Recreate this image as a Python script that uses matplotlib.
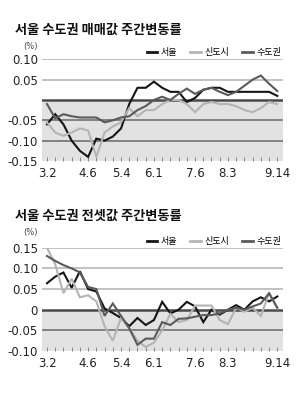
import matplotlib
matplotlib.use('Agg')
import matplotlib.pyplot as plt
import numpy as np

plt.rcParams['font.family'] = ['Noto Sans CJK KR', 'DejaVu Sans']

# weekly data, 3.2 ~ 9.14
weeks = np.arange(29)
tick_pos = [0, 5, 9, 13, 18, 22, 28]
tick_labels = ['3.2', '4.6', '5.4', '6.1', '7.6', '8.3', '9.14']
series_names = ['서울', '신도시', '수도권']

# 매매값
sale_seoul = [-0.06, -0.035, -0.06, -0.10, -0.125, -0.14, -0.095, -0.10, -0.09, -0.07,
              -0.01, 0.03, 0.03, 0.045, 0.03, 0.02, 0.02, -0.005, 0.005, 0.025,
              0.03, 0.03, 0.02, 0.02, 0.02, 0.02, 0.02, 0.02, 0.01]
sale_new = [-0.055, -0.08, -0.088, -0.08, -0.07, -0.075, -0.14, -0.08, -0.065, -0.055,
            -0.02, -0.04, -0.025, -0.025, -0.01, 0.0, 0.0, -0.01, -0.03, -0.01,
            -0.005, -0.01, -0.01, -0.015, -0.025, -0.03, -0.02, -0.005, -0.01]
sale_metro = [-0.01, -0.045, -0.035, -0.04, -0.043, -0.043, -0.043, -0.055, -0.05, -0.043,
              -0.04, -0.025, -0.015, 0.0, 0.008, 0.0, 0.015, 0.028, 0.015, 0.025,
              0.03, 0.02, 0.012, 0.02, 0.035, 0.05, 0.06, 0.04, 0.022]

# 전셋값
rent_seoul = [0.064, 0.08, 0.09, 0.053, 0.093, 0.05, 0.044, 0.003, -0.008, -0.02,
              -0.04, -0.02, -0.037, -0.025, 0.019, -0.009, 0.0, 0.019, 0.008, -0.03,
              0.0, -0.012, 0.0, 0.011, 0.0, 0.02, 0.03, 0.02, 0.032]
rent_new = [0.15, 0.11, 0.04, 0.075, 0.03, 0.035, 0.02, -0.04, -0.075, -0.02,
            -0.045, -0.075, -0.09, -0.08, -0.05, -0.01, -0.03, -0.025, 0.01, 0.01,
            0.01, -0.025, -0.035, 0.005, -0.005, 0.005, -0.015, 0.04, 0.003]
rent_metro = [0.13, 0.118, 0.108, 0.10, 0.09, 0.055, 0.05, -0.015, 0.015, -0.015,
              -0.045, -0.085, -0.07, -0.07, -0.03, -0.037, -0.022, -0.021, -0.017, -0.013,
              -0.013, -0.009, 0.0, 0.005, 0.0, 0.008, 0.015, 0.04, 0.005]

colors = ['#151515', '#b4b4b4', '#5a5a5a']
num_font = ['Liberation Sans Narrow', 'DejaVu Sans']


def draw_panel(ax, data, ylim, grid_light, grid_mid, tick_vals, tick_txt):
    ax.set_xlim(-0.6, 28.7)
    ax.set_ylim(*ylim)
    # shaded negative area
    ax.axhspan(ylim[0], 0, color='#e2e2e2', zorder=0, lw=0)
    for y in grid_light:
        ax.axhline(y, color='#b8b8b8', lw=1.2, zorder=1)
    for y in grid_mid:
        ax.axhline(y, color='#7a7a7a', lw=1.3, zorder=1)
    ax.axhline(0, color='#4a4a4a', lw=1.8, zorder=1)
    for vals, c in zip(data, colors):
        ax.plot(weeks, vals, color=c, lw=1.5, zorder=3, solid_joinstyle='miter')
    for s in ax.spines.values():
        s.set_visible(False)
    ax.set_xticks(tick_pos)
    ax.set_xticklabels(tick_labels, family=num_font, fontsize=8.5, color='#222')
    ax.set_xticks(weeks, minor=True)
    ax.tick_params(axis='x', which='both', direction='in', length=3, width=0.6,
                   color='#777', pad=4)
    ax.set_yticks(tick_vals)
    ax.set_yticklabels(tick_txt, family=num_font, fontsize=8.5, color='#222')
    ax.tick_params(axis='y', length=0, pad=3)
    handles = [plt.Line2D([], [], color=c, lw=2) for c in colors]
    ax.legend(handles, series_names, loc='lower right', bbox_to_anchor=(1.0, 1.0),
              ncol=3, frameon=False, fontsize=6.5, handlelength=1.2, handletextpad=0.4,
              columnspacing=1.4, borderaxespad=0.1, borderpad=0.1)


fig = plt.figure(figsize=(3.07, 3.98), dpi=100)
fig.patch.set_facecolor('white')

ax1 = fig.add_axes([0.137, 0.5955, 0.785, 0.2555])
draw_panel(ax1, [sale_seoul, sale_new, sale_metro], (-0.15, 0.10),
           [0.10, 0.05], [-0.05, -0.10],
           [0.10, 0.05, -0.05, -0.10, -0.15], ['0.10', '0.05', '-0.05', '-0.10', '-0.15'])

ax2 = fig.add_axes([0.137, 0.118, 0.785, 0.2596])
draw_panel(ax2, [rent_seoul, rent_new, rent_metro], (-0.10, 0.15),
           [0.15, 0.10, 0.05], [-0.05],
           [0.15, 0.10, 0.05, 0, -0.05, -0.10], ['0.15', '0.10', '0.05', '0', '-0.05', '-0.10'])

# unit labels
fig.text(0.098, 0.882, '(%)', fontsize=6, color='#444', family=num_font,
         ha='center', va='center')
fig.text(0.098, 0.415, '(%)', fontsize=6, color='#444', family=num_font,
         ha='center', va='center')

fig.text(0.05, 0.925, '서울 수도권 매매값 주간변동률', fontsize=9.5, fontweight='bold',
         color='#111', ha='left', va='center')
fig.text(0.05, 0.457, '서울 수도권 전셋값 주간변동률', fontsize=9.5, fontweight='bold',
         color='#111', ha='left', va='center')

fig.savefig('out.png', dpi=100)
